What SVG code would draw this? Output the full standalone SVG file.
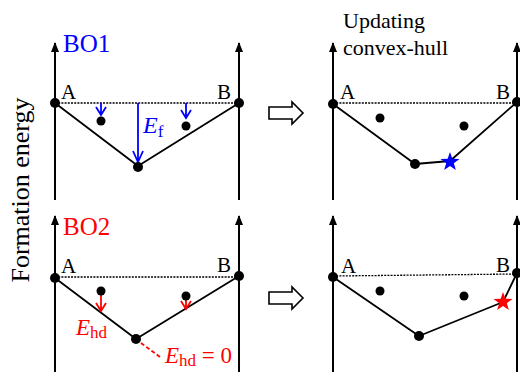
<svg xmlns="http://www.w3.org/2000/svg" width="520" height="372" viewBox="0 0 520 372">
<style>
.ax{stroke:#000;stroke-width:2;fill:none}
.hull{stroke:#000;stroke-width:1.8;fill:none;stroke-linejoin:round}
.dot{stroke:#000;stroke-width:1.3;stroke-dasharray:2 1.2;fill:none}
.t{font-family:"Liberation Serif","Times New Roman",serif;fill:#000}
.blue{stroke:#0000ff;stroke-width:1.8;fill:none}
.red{stroke:#ff0000;stroke-width:1.8;fill:none}
.harrow{fill:#fff;stroke:#000;stroke-width:1.6;stroke-linejoin:miter}
</style>
<defs>
<marker id="ah" viewBox="0 0 10 8" refX="9" refY="4" markerWidth="10" markerHeight="8" markerUnits="userSpaceOnUse" orient="auto">
<path d="M0,0 L10,4 L0,8 Z" fill="#000"/>
</marker>
<path id="star" d="M0,-10 L2.351,-3.236 L9.511,-3.09 L3.804,1.236 L5.878,8.09 L0,4 L-5.878,8.09 L-3.804,1.236 L-9.511,-3.09 L-2.351,-3.236 Z"/>
</defs>
<text class="t" font-size="26" transform="translate(29,190) rotate(-90)" text-anchor="middle">Formation energy</text>
<g id="axes">
<line class="ax" x1="55" y1="200" x2="55" y2="43" marker-end="url(#ah)"/>
<line class="ax" x1="239" y1="200" x2="239" y2="43" marker-end="url(#ah)"/>
<line class="ax" x1="333" y1="200" x2="333" y2="43" marker-end="url(#ah)"/>
<line class="ax" x1="517" y1="200" x2="517" y2="43" marker-end="url(#ah)"/>
<line class="ax" x1="55" y1="372" x2="55" y2="216" marker-end="url(#ah)"/>
<line class="ax" x1="239" y1="372" x2="239" y2="216" marker-end="url(#ah)"/>
<line class="ax" x1="333" y1="372" x2="333" y2="216" marker-end="url(#ah)"/>
<line class="ax" x1="517" y1="372" x2="517" y2="216" marker-end="url(#ah)"/>
</g>
<g id="connectors">
<line class="dot" x1="55" y1="103" x2="239" y2="103"/>
<polyline class="hull" points="55,103 138,166 239,103"/>
<line class="dot" x1="333" y1="103" x2="517" y2="103"/>
<polyline class="hull" points="333,104 415,164 450,161 517,102"/>
<line class="dot" x1="55" y1="277" x2="239" y2="277"/>
<polyline class="hull" points="55,278 136,339 239,276"/>
<line class="dot" x1="333" y1="276" x2="517" y2="274"/>
<polyline class="hull" points="333,277 419,336 503,302 517,273"/>
<path class="blue" d="M101,103 V115 M96,107 L101,115 L106,107"/>
<path class="blue" d="M186,103 V118 M181,110 L186,118 L191,110"/>
<path class="blue" d="M138,103 V162 M133,151 L138,162 L143,151"/>
<path class="red" d="M101,293 V311 M96,303 L101,311 L106,303"/>
<path class="red" d="M186,296 V309 M181,301 L186,309 L191,301"/>
<line class="red" x1="141" y1="343" x2="160" y2="357" stroke-dasharray="4 2.5"/>
<polygon class="harrow" points="269,107 292,107 292,102 303,113 292,124 292,119 269,119"/>
<polygon class="harrow" points="269,292 292,292 292,287 303,298 292,309 292,304 269,304"/>
</g>
<g id="panel-BO1">
<text class="t" x="63" y="52" font-size="25" style="fill:#0000ff">BO1</text>
<text class="t" x="61" y="99" font-size="21">A</text>
<text class="t" x="217" y="99" font-size="21">B</text>
<circle cx="55" cy="103" r="5"/>
<circle cx="239" cy="103" r="5"/>
<circle cx="101" cy="121" r="4.5"/>
<circle cx="186" cy="126" r="4.5"/>
<circle cx="138" cy="167" r="5"/>
<text class="t" x="143" y="133" font-size="24" font-style="italic" style="fill:#0000ff">E<tspan font-size="17" font-style="normal" dy="4">f</tspan></text>
</g>
<g id="panel-update1">
<text class="t" x="343" y="28" font-size="22">Updating</text>
<text class="t" x="343" y="55" font-size="22">convex-hull</text>
<text class="t" x="340" y="99" font-size="21">A</text>
<text class="t" x="496" y="99" font-size="21">B</text>
<circle cx="333" cy="104" r="5"/>
<circle cx="517" cy="102" r="5"/>
<circle cx="380" cy="118" r="4.5"/>
<circle cx="464" cy="126" r="4.5"/>
<circle cx="415" cy="164" r="5"/>
<use href="#star" x="450" y="162" fill="#0000ff"/>
</g>
<g id="panel-BO2">
<text class="t" x="63" y="235" font-size="25" style="fill:#ff0000">BO2</text>
<text class="t" x="61" y="273" font-size="21">A</text>
<text class="t" x="217" y="272" font-size="21">B</text>
<circle cx="55" cy="278" r="5"/>
<circle cx="239" cy="276" r="5"/>
<circle cx="101" cy="291" r="4.5"/>
<circle cx="186" cy="296" r="4.5"/>
<circle cx="136" cy="339" r="5"/>
<text class="t" x="76" y="335" font-size="23" font-style="italic" style="fill:#ff0000">E<tspan font-size="17" font-style="normal" dy="3">hd</tspan></text>
<text class="t" x="165" y="363" font-size="23" font-style="italic" style="fill:#ff0000">E<tspan font-size="17" font-style="normal" dy="3">hd</tspan><tspan font-style="normal" dy="-3"> = 0</tspan></text>
</g>
<g id="panel-update2">
<text class="t" x="341" y="273" font-size="21">A</text>
<text class="t" x="496" y="272" font-size="21">B</text>
<circle cx="333" cy="277" r="5"/>
<circle cx="517" cy="273" r="5"/>
<circle cx="380" cy="291" r="4.5"/>
<circle cx="464" cy="296" r="4.5"/>
<circle cx="419" cy="336" r="5"/>
<use href="#star" x="503" y="302" fill="#ff0000"/>
</g>
</svg>
